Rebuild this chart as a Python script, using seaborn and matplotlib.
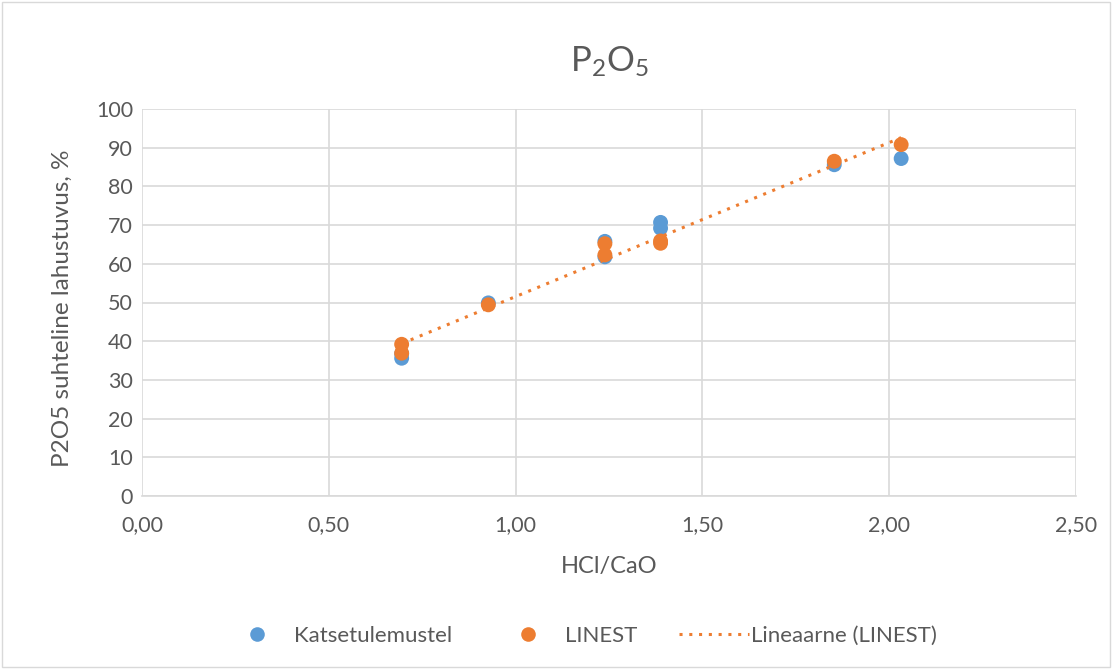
import matplotlib
matplotlib.use("Agg")
import matplotlib.pyplot as plt
from matplotlib.lines import Line2D
from matplotlib.patches import Rectangle
import seaborn as sns
import pandas as pd

# HCl/CaO ratio and relative P2O5 solubility (%)
hcl_cao = [0.695, 0.695, 0.927, 1.239, 1.239, 1.388, 1.388, 1.853, 2.032]
measured = [35.6, 36.8, 49.9, 65.8, 61.8, 70.7, 69.2, 85.6, 87.2]
linest = [39.2, 36.9, 49.4, 65.2, 62.3, 65.9, 65.3, 86.5, 90.8]

x_ticks = [0.0, 0.5, 1.0, 1.5, 2.0, 2.5]
x_tick_labels = ["0,00", "0,50", "1,00", "1,50", "2,00", "2,50"]
y_ticks = list(range(0, 101, 10))

df = pd.DataFrame({"x": hcl_cao, "measured": measured, "linest": linest})

sns.set_theme(style="white")
plt.rcParams["font.family"] = ["Lato", "DejaVu Sans"]
plt.rcParams["mathtext.fontset"] = "custom"
plt.rcParams["mathtext.rm"] = "Lato"
plt.rcParams["mathtext.it"] = "Lato"

blue = "#5B9BD5"
orange = "#ED7D31"
txt = "#595959"
grid = "#D9D9D9"

W, H = 1112, 669
fig = plt.figure(figsize=(W / 100, H / 100), dpi=100)
ax = fig.add_axes([142 / W, 1 - 496 / H, (1076 - 142) / W, (496 - 109) / H])

# chart area border
fig.patches.append(Rectangle((2 / W, 2 / H), (W - 4) / W, (H - 4) / H,
                             transform=fig.transFigure, fill=False,
                             edgecolor="#D9D9D9", linewidth=1.0))

sns.scatterplot(data=df, x="x", y="measured", ax=ax, color=blue, s=115,
                edgecolor="none", zorder=3)
sns.scatterplot(data=df, x="x", y="linest", ax=ax, color=orange, s=115,
                edgecolor="none", zorder=4)
sns.regplot(data=df, x="x", y="linest", ax=ax, scatter=False, ci=None,
            truncate=True, color=orange,
            line_kws={"linestyle": (0, (1, 2.2)), "linewidth": 2.2, "zorder": 5})

ax.set_xlim(0, 2.5)
ax.set_ylim(0, 100)
ax.set_xticks(x_ticks)
ax.set_xticklabels(x_tick_labels)
ax.set_yticks(y_ticks)
ax.grid(True, color=grid, linewidth=1.2)
ax.set_axisbelow(True)
for s in ax.spines.values():
    s.set_visible(False)
ax.spines["bottom"].set_visible(True)
ax.spines["bottom"].set_color(grid)
ax.spines["bottom"].set_linewidth(1.2)
ax.tick_params(axis="both", length=0, labelsize=15.5, labelcolor=txt)
ax.tick_params(axis="x", pad=14)
ax.tick_params(axis="y", pad=6.5)
ax.set_xlabel("")
ax.set_ylabel("")

fig.text(0.5 * (142 + 1076) / W, 1 - 566 / H, "HCl/CaO", ha="center",
         va="center", fontsize=17, color=txt)
fig.text(62 / W, 1 - 308 / H, "P2O5 suhteline lahustuvus, %", ha="center",
         va="center", rotation=90, fontsize=17.5, color=txt)
fig.text(0.5 * (142 + 1076) / W, 1 - 62 / H, r"P$_2$O$_5$", ha="center",
         va="center", fontsize=25, color=txt)

handles = [
    Line2D([], [], marker="o", linestyle="none", color=blue, markersize=10.5,
           markeredgewidth=0),
    Line2D([], [], marker="o", linestyle="none", color=orange, markersize=10.5,
           markeredgewidth=0),
    Line2D([], [], color=orange, linestyle=(0, (1, 2.2)), linewidth=2.2),
]
labels = ["Katsetulemustel", "LINEST", "Lineaarne (LINEST)"]
fig.legend(handles, labels, loc="center", bbox_to_anchor=(0.521, 1 - 636 / H),
           ncol=3, frameon=False, fontsize=16, labelcolor=txt,
           handlelength=3.15, columnspacing=1.85, handletextpad=0.1,
           borderpad=0, borderaxespad=0)

fig.savefig("out.png", dpi=100, facecolor="white")
